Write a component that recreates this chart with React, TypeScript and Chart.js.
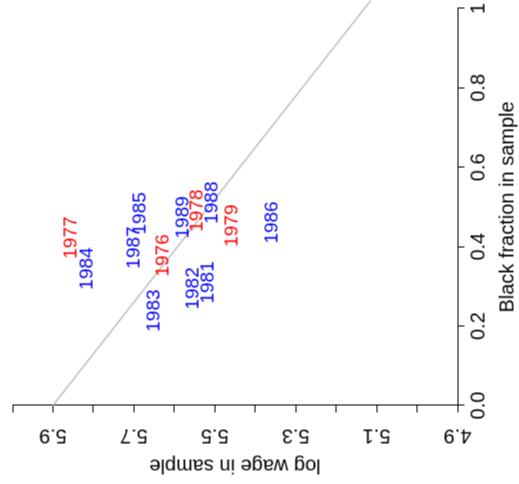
import { useEffect, useRef } from "react";
import Chart, { ChartConfiguration, Plugin } from "chart.js/auto";

// values
const years = ["1976", "1977", "1978", "1979", "1981", "1982", "1983", "1984", "1985", "1986", "1987", "1988", "1989"];
const blackFraction = [0.378, 0.423, 0.491, 0.453, 0.31, 0.295, 0.239, 0.345, 0.484, 0.461, 0.398, 0.511, 0.474];
const logWage = [5.628, 5.855, 5.544, 5.456, 5.515, 5.552, 5.65, 5.814, 5.683, 5.357, 5.698, 5.507, 5.579];
const yearColors = years.map((y) => (Number(y) < 1980 ? "#ff0000" : "#0000ff"));
const fitIntercept = 5.9;
const fitSlope = -0.77;
const fitEnds = [0, 1.02];
const wageLabels = [5.9, 5.7, 5.5, 5.3, 5.1, 4.9];

const FONT = "'Liberation Sans', Arial, sans-serif";

const App: React.FC = () => {
  const canvasRef = useRef<HTMLCanvasElement | null>(null);
  const chartRef = useRef<Chart | null>(null);

  useEffect(() => {
    document.body.style.margin = "0";

    // draws year labels and the rotated wage tick labels
    const textPlugin: Plugin<"scatter"> = {
      id: "textPlugin",
      afterDraw(chart) {
        const ctx = chart.ctx;
        const xs = chart.scales.x;
        const ys = chart.scales.y;
        ctx.save();
        ctx.font = `19px ${FONT}`;
        ctx.textAlign = "center";
        ctx.textBaseline = "middle";
        years.forEach((y, i) => {
          ctx.fillStyle = yearColors[i];
          ctx.fillText(y, xs.getPixelForValue(blackFraction[i]), ys.getPixelForValue(logWage[i]));
        });
        ctx.fillStyle = "#000";
        ctx.font = `20px ${FONT}`;
        wageLabels.forEach((w) => {
          ctx.save();
          ctx.translate(chart.chartArea.left - 30, ys.getPixelForValue(w));
          ctx.rotate(-Math.PI / 2);
          ctx.fillText(w.toFixed(1), 0, 0);
          ctx.restore();
        });
        ctx.restore();
      },
    };

    const config: ChartConfiguration<"scatter"> = {
      type: "scatter",
      data: {
        datasets: [
          {
            data: years.map((_, i) => ({ x: blackFraction[i], y: logWage[i] })),
            pointRadius: 0,
          },
          {
            type: "line",
            data: fitEnds.map((f) => ({ x: f, y: fitIntercept + fitSlope * f })),
            borderColor: "#bebebe",
            borderWidth: 1.5,
            pointRadius: 0,
            clip: false,
          } as any,
        ],
      },
      options: {
        responsive: false,
        animation: false,
        layout: { padding: { top: 12, right: 8, bottom: 0, left: 0 } },
        plugins: { legend: { display: false }, tooltip: { enabled: false } },
        scales: {
          x: {
            type: "linear",
            min: 0,
            max: 1,
            border: { display: true, color: "#000", width: 1 },
            grid: { drawOnChartArea: false, drawTicks: true, tickLength: 7, color: "#000" },
            ticks: {
              stepSize: 0.2,
              maxRotation: 0,
              padding: 2,
              color: "#000",
              font: { family: FONT, size: 20 },
              callback: (v) => (Number(v) === 1 ? "1" : Number(v).toFixed(1)),
            },
            title: {
              display: true,
              text: "Black fraction in sample",
              color: "#000",
              font: { family: FONT, size: 20 },
              padding: { top: 0, bottom: 0 },
            },
            afterFit: (s) => {
              s.height = 62;
            },
          },
          y: {
            type: "linear",
            min: 4.9,
            max: 6.0,
            border: { display: true, color: "#000", width: 1 },
            grid: { drawOnChartArea: false, drawTicks: true, tickLength: 7, color: "#000" },
            ticks: { stepSize: 0.1, display: false },
            title: {
              display: true,
              text: "log wage in sample",
              color: "#000",
              font: { family: FONT, size: 20 },
              padding: { top: 7, bottom: 0 },
            },
            afterFit: (s) => {
              s.width = 79;
            },
          },
        },
      },
      plugins: [textPlugin],
    };

    if (chartRef.current) chartRef.current.destroy();
    if (canvasRef.current) chartRef.current = new Chart(canvasRef.current, config);

    return () => {
      if (chartRef.current) chartRef.current.destroy();
      chartRef.current = null;
    };
  }, []);

  // the plot is drawn upright and turned a quarter turn to match the picture
  return (
    <div
      style={{
        position: "fixed",
        left: 17.5,
        top: -17.5,
        width: 484,
        height: 519,
        transform: "rotate(-90deg)",
        transformOrigin: "center",
        background: "#fff",
      }}
    >
      <canvas ref={canvasRef} width={484} height={519} />
    </div>
  );
};

export default App;
